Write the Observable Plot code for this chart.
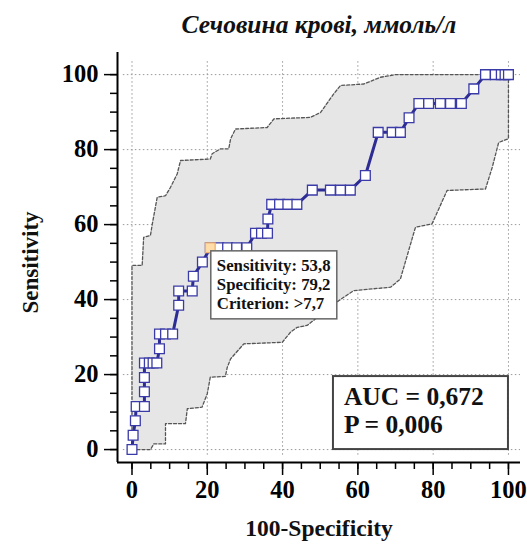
<!DOCTYPE html>
<html><head><meta charset="utf-8">
<script src="https://cdn.jsdelivr.net/npm/d3@7"></script>
<script src="https://cdn.jsdelivr.net/npm/@observablehq/plot@0.6"></script>
<style>body{margin:0;background:#fff} svg{display:block}</style>
</head><body><div id="chart"></div>
<script>
const title = "Сечовина крові, ммоль/л";
const xLabel = "100-Specificity";
const yLabel = "Sensitivity";
const majorTicks = [0, 20, 40, 60, 80, 100];
const minorTicks = [0, 5, 10, 15, 20, 25, 30, 35, 40, 45, 50, 55, 60, 65, 70, 75, 80, 85, 90, 95, 100];

// ROC curve points (100-Specificity, Sensitivity)
const rocFpr = [0, 0.3, 0.9, 1.1, 3.3, 3.3, 3.3, 3.3, 4.6, 5.6, 6.6, 7.3, 7.3, 8.9, 10.8, 12.4, 12.4, 16.0, 16.3, 18.7, 20.8, 23.0, 25.4, 27.8, 30.5, 32.8, 34.4, 36.0, 36.1, 37.1, 39.2, 41.4, 43.8, 47.9, 52.7, 55.4, 58.0, 62.0, 65.4, 69.1, 71.3, 73.6, 76.2, 78.8, 81.9, 84.6, 87.5, 90.8, 93.9, 96.5, 98.1, 99.1, 100];
const rocTpr = [0, 3.8, 7.7, 11.5, 11.5, 15.4, 19.2, 23.1, 23.1, 23.1, 23.1, 26.9, 30.8, 30.8, 30.8, 38.5, 42.3, 42.3, 46.2, 50.0, 53.8, 53.8, 53.8, 53.8, 53.8, 57.7, 57.7, 57.7, 61.5, 65.4, 65.4, 65.4, 65.4, 69.2, 69.2, 69.2, 69.2, 73.1, 84.6, 84.6, 84.6, 88.5, 92.3, 92.3, 92.3, 92.3, 92.3, 96.2, 100, 100, 100, 100, 100];

// 95% confidence bounds
const upperFpr = [0, 0, 2.7, 3.1, 4.9, 5.4, 6.7, 8.9, 10.2, 12.0, 12.9, 20.8, 21.3, 23.5, 25.7, 26.2, 27.5, 35.9, 37.7, 47.4, 50.1, 53.6, 55.4, 61.6, 66.0, 70.0, 100];
const upperTpr = [0, 49.1, 49.1, 56.6, 57.1, 60.2, 67.3, 67.7, 69.9, 73.5, 77.1, 77.5, 78.9, 80.2, 80.2, 82.9, 85.5, 85.9, 88.2, 88.6, 89.9, 94.9, 97.1, 97.5, 99.3, 100, 100];
const lowerFpr = [0, 4.9, 5.8, 8.9, 8.9, 14.2, 14.7, 18.6, 20.0, 20.8, 24.8, 25.3, 26.2, 29.7, 39.9, 42.1, 43.9, 46.5, 54.9, 58.9, 68.7, 71.3, 72.2, 73.5, 75.3, 79.7, 83.7, 93.9, 95.7, 97.4, 100, 100];
const lowerTpr = [0, 0, 1.5, 1.5, 6.9, 6.9, 10.9, 11.3, 14.9, 19.3, 19.5, 21.9, 24.2, 28.2, 28.6, 31.3, 32.6, 33.1, 39.7, 42.4, 43.3, 45.5, 48.6, 53.1, 59.3, 60.2, 69.1, 69.5, 75.3, 81.9, 82.9, 100];

// Optimal cut-off
const cutFpr = [20.8];
const cutTpr = [53.8];
const criterion = ">7,7";
const aucText = "AUC = 0,672";
const pText = "P = 0,006";

const fmt = v => v.toFixed(1).replace(".", ",");
const roc = rocFpr.map((x, i) => ({x, y: rocTpr[i]}));
const upper = upperFpr.map((x, i) => ({x, y: upperTpr[i]}));
const lower = lowerFpr.map((x, i) => ({x, y: lowerTpr[i]}));
const band = upper.concat(lower.slice().reverse());
const cut = cutFpr.map((x, i) => ({x, y: cutTpr[i]}));

const xDomain = [-3.85, 103.2];
const yDomain = [-3.45, 105.9];
const serif = "'Liberation Serif', 'Times New Roman', serif";

const tooltip = (index, scales) => {
  const x0 = scales.x(cutFpr[0]), y0 = scales.y(cutTpr[0]);
  const g = d3.create("svg:g").attr("transform", `translate(${x0 + 1},${y0 + 3.5})`);
  g.append("rect").attr("width", 126).attr("height", 68)
    .attr("fill", "white").attr("stroke", "#666").attr("stroke-width", 1.5);
  const lines = [
    "Sensitivity: " + fmt(cutTpr[0]),
    "Specificity: " + fmt(100 - cutFpr[0]),
    "Criterion: " + criterion
  ];
  lines.forEach((t, i) => {
    g.append("text").attr("x", 6).attr("y", 20 + i * 19)
      .attr("text-anchor", "start")
      .attr("font-size", 16.8).attr("font-weight", "bold").attr("font-family", serif)
      .attr("fill", "#111").text(t);
  });
  return g.node();
};

const aucBox = (index, scales) => {
  const x1 = scales.x(100), y1 = scales.y(0);
  const g = d3.create("svg:g").attr("transform", `translate(${x1 - 175},${y1 - 73})`);
  g.append("rect").attr("width", 175).attr("height", 73)
    .attr("fill", "white").attr("stroke", "#444").attr("stroke-width", 2);
  [aucText, pText].forEach((t, i) => {
    g.append("text").attr("x", 11).attr("y", 29 + i * 28)
      .attr("text-anchor", "start")
      .attr("font-size", 25.5).attr("font-weight", "bold").attr("font-family", serif)
      .attr("fill", "#111").text(t);
  });
  return g.node();
};

const chart = Plot.plot({
  width: 527,
  height: 547,
  marginTop: 52,
  marginBottom: 85,
  marginLeft: 117,
  marginRight: 7,
  style: {fontFamily: serif, fontSize: "22px", fontWeight: "bold", color: "black", background: "white"},
  x: {domain: xDomain, label: null},
  y: {domain: yDomain, label: null},
  marks: [
    Plot.ruleX(majorTicks, {x: d => d, y1: -1.5, y2: 103.5, stroke: "#999", strokeWidth: 1, strokeDasharray: "1.5,2.5"}),
    Plot.ruleY(majorTicks, {y: d => d, x1: -2.3, x2: 103.2, stroke: "#999", strokeWidth: 1, strokeDasharray: "1.5,2.5"}),
    Plot.line(band, {x: "x", y: "y", fill: "#e6e6e6", stroke: "none", curve: "linear"}),
    Plot.line(upper, {x: "x", y: "y", stroke: "#555", strokeWidth: 1.3, strokeDasharray: "3,2"}),
    Plot.line(lower, {x: "x", y: "y", stroke: "#555", strokeWidth: 1.3, strokeDasharray: "3,2"}),
    Plot.line(roc, {x: "x", y: "y", stroke: "#2c2c94", strokeWidth: 3}),
    Plot.dot(roc, {x: "x", y: "y", symbol: "square", r: 5.5, fill: "white", stroke: "#3a3aa8", strokeWidth: 1.3}),
    Plot.dot(cut, {x: "x", y: "y", symbol: "square", r: 5.5, fill: "#ffdca8", stroke: "#f0b070", strokeWidth: 1.3}),
    Plot.axisX(minorTicks, {tickSize: 7, tickFormat: () => "", strokeWidth: 1.5, label: null}),
    Plot.axisX(majorTicks, {tickSize: 13, tickPadding: 5, strokeWidth: 1.5, fontSize: 24.5, fontWeight: "bold", label: null}),
    Plot.axisY(minorTicks, {tickSize: 7, tickFormat: () => "", strokeWidth: 1.5, label: null}),
    Plot.axisY(majorTicks, {tickSize: 13, tickPadding: 6, strokeWidth: 1.5, fontSize: 24.5, fontWeight: "bold", label: null}),
    Plot.ruleX([xDomain[0]], {stroke: "black", strokeWidth: 2}),
    Plot.ruleY([yDomain[0]], {stroke: "black", strokeWidth: 2}),
    tooltip,
    aucBox,
    Plot.text([title], {frameAnchor: "top", textAnchor: "middle", lineAnchor: "middle", dy: -28, fontSize: 25.5, fontStyle: "italic", fontWeight: "bold", fill: "#111"}),
    Plot.text([yLabel], {frameAnchor: "left", textAnchor: "middle", lineAnchor: "middle", rotate: -90, dx: -87, dy: 5, fontSize: 23, fontWeight: "bold", fill: "#111"}),
    Plot.text([xLabel], {frameAnchor: "bottom", textAnchor: "middle", lineAnchor: "middle", dy: 66, fontSize: 23.5, fontWeight: "bold", fill: "#111"})
  ]
});
document.getElementById("chart").appendChild(chart);
</script>
</body></html>
